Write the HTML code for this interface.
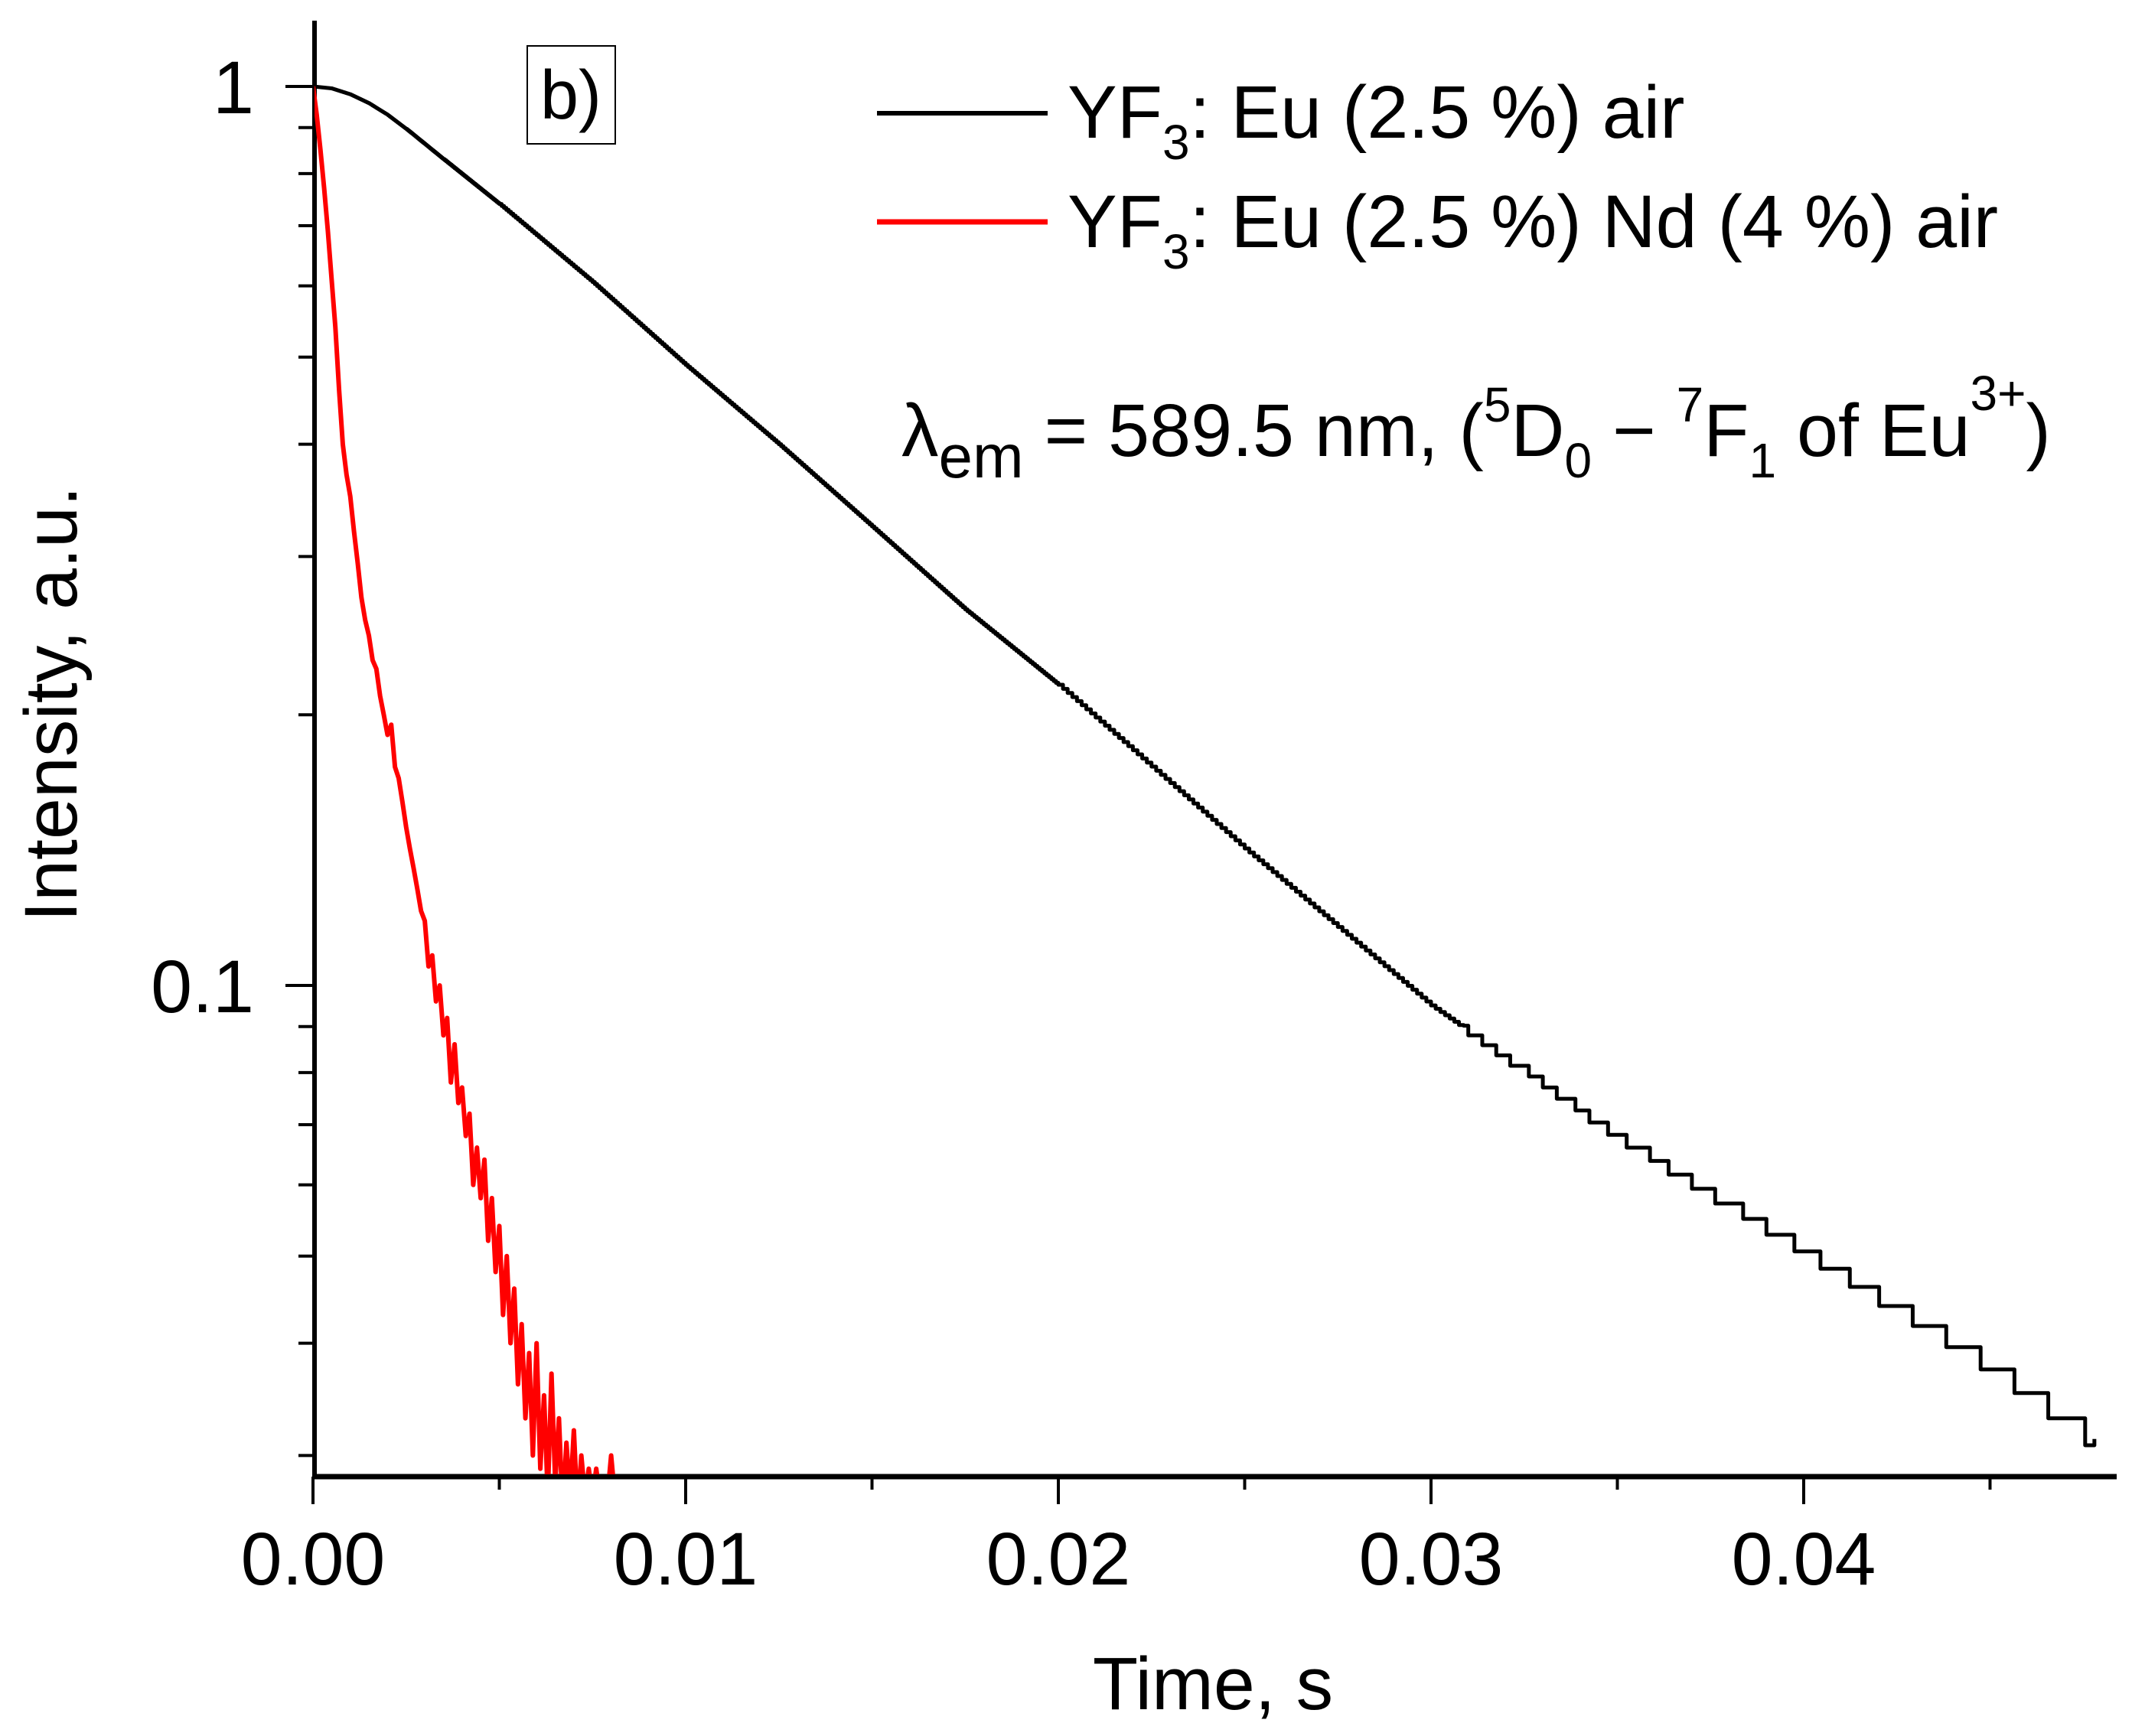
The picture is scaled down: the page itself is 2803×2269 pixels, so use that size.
<!DOCTYPE html>
<html><head><meta charset="utf-8"><style>
html,body{margin:0;padding:0;background:#fff;}
svg{display:block;font-family:"Liberation Sans",Arial,sans-serif;}
</style></head><body>
<svg id="chart" width="2803" height="2269" viewBox="0 0 2803 2269" xmlns="http://www.w3.org/2000/svg">
<defs><clipPath id="plotclip"><rect x="411" y="20" width="2360" height="1907"/></clipPath></defs>
<g id="axes"></g>
<g id="series" clip-path="url(#plotclip)"></g>
<text x="1585" y="2234" font-size="97" text-anchor="middle">Time, s</text>
<text transform="translate(100,920) rotate(-90)" font-size="97" text-anchor="middle">Intensity, a.u.</text>
<g>
<rect x="689" y="60" width="115" height="128" fill="none" stroke="#000" stroke-width="2"/>
<text x="746" y="155" font-size="90" text-anchor="middle">b)</text>
</g>
<g>
<g>
<line x1="1146" y1="148" x2="1369" y2="148" stroke="#000" stroke-width="6"/>
<text x="1395" y="180" font-size="97">YF<tspan font-size="64" dy="28">3</tspan><tspan dy="-28">: Eu (2.5 %) air</tspan></text>
</g>
<g>
<line x1="1146" y1="290" x2="1369" y2="290" stroke="#f00" stroke-width="7"/>
<text x="1395" y="323" font-size="97">YF<tspan font-size="64" dy="28">3</tspan><tspan dy="-28">: Eu (2.5 %) Nd (4 %) air</tspan></text>
</g>
</g>
<text x="1178" y="596" font-size="97">λ<tspan font-size="80" dy="28">em</tspan><tspan dy="-28"> = 589.5 nm, (</tspan><tspan font-size="64" dy="-45">5</tspan><tspan dy="45">D</tspan><tspan font-size="64" dy="28">0</tspan><tspan dy="-28"> − </tspan><tspan font-size="64" dy="-45">7</tspan><tspan dy="45">F</tspan><tspan font-size="64" dy="28">1</tspan><tspan dy="-28"> of Eu</tspan><tspan font-size="64" dy="-60">3+</tspan><tspan dy="60">)</tspan></text>
</svg>
<script>
var xTicks=[0,0.01,0.02,0.03,0.04];
var xTickLabels=["0.00","0.01","0.02","0.03","0.04"];
var yMajor=[1,0.1];
var yMajorLabels=["1","0.1"];
var yMinor=[0.9,0.8,0.7,0.6,0.5,0.4,0.3,0.2,0.09,0.08,0.07,0.06,0.05,0.04,0.03];
var blackT=[0,0.0005,0.001,0.0015,0.002,0.0025,0.0035,0.005,0.0075,0.01,0.0125,0.015,0.0175,0.02,0.025,0.03,0.035,0.04,0.0445,0.0478];
var blackV=[1,0.995,0.98,0.958,0.93,0.897,0.83,0.74,0.606,0.49,0.40,0.324,0.262,0.216,0.142,0.095,0.068,0.0506,0.039,0.0313];
var redT=[];for(var i=0;i<=81;i++)redT.push(i*0.0001);
var redV=[1.00,0.93,0.85,0.77,0.69,0.61,0.54,0.46,0.40,0.37,0.35,0.32,0.295,0.27,0.255,0.245,0.23,0.225,0.21,0.20,0.19,0.195,0.175,0.17,0.16,0.15,0.142,0.135,0.128,0.121,0.118,0.105,0.108,0.096,0.100,0.088,0.092,0.078,0.086,0.074,0.077,0.068,0.072,0.060,0.066,0.058,0.064,0.052,0.058,0.048,0.054,0.043,0.050,0.040,0.046,0.036,0.042,0.033,0.039,0.030,0.040,0.029,0.035,0.027,0.037,0.028,0.033,0.026,0.031,0.027,0.032,0.026,0.030,0.027,0.029,0.027,0.029,0.027,0.027,0.027,0.030,0.027];
var NS="http://www.w3.org/2000/svg";
var X0=409,XS=48700,Y1=113,DEC=1175,AXY=1930,AXL=411;
function sx(t){return X0+t*XS;}
function sy(v){return Y1-DEC*Math.log10(v);}
function mk(tag,attrs,parent){var e=document.createElementNS(NS,tag);for(var k in attrs)e.setAttribute(k,attrs[k]);parent.appendChild(e);return e;}
var ax=document.getElementById('axes');
var l=mk('line',{x1:AXL,y1:27,x2:AXL,y2:AXY,stroke:'#000','stroke-width':6},ax);


l=mk('line',{x1:AXL-3,y1:AXY,x2:2766,y2:AXY,stroke:'#000','stroke-width':7},ax);


xTicks.forEach(function(t,i){
  var e=mk('line',{x1:sx(t),y1:AXY,x2:sx(t),y2:1966,stroke:'#000','stroke-width':4},ax);
  
  
  var tx=mk('text',{x:sx(t),y:2071,'font-size':97,'text-anchor':'middle'},ax);
  tx.textContent=xTickLabels[i];
  
  
  var m=t+0.005;
  if(sx(m)<2766){var e2=mk('line',{x1:sx(m),y1:AXY,x2:sx(m),y2:1947,stroke:'#000','stroke-width':4},ax);
  
  }
});
yMajor.forEach(function(v,i){
  var e=mk('line',{x1:373,y1:sy(v),x2:AXL,y2:sy(v),stroke:'#000','stroke-width':4},ax);
  
  
  var tx=mk('text',{x:332,y:sy(v)+35,'font-size':97,'text-anchor':'end'},ax);
  tx.textContent=yMajorLabels[i];
  
  
});
yMinor.forEach(function(v){
  var e=mk('line',{x1:390,y1:sy(v),x2:AXL,y2:sy(v),stroke:'#000','stroke-width':4},ax);
  
  
});
var se=document.getElementById('series');
var q=0.0022,pts=[];
for(var k=0;k<blackT.length-1;k++){
  var n=40;
  for(var j=0;j<n;j++){
    var f=j/n,t=blackT[k]+(blackT[k+1]-blackT[k])*f;
    var lv=Math.log(blackV[k])+(Math.log(blackV[k+1])-Math.log(blackV[k]))*f;
    var v=Math.exp(lv); if(v<0.09) v=Math.round(v/q)*q;
    pts.push([sx(t),sy(v)]);
  }
}
pts.push([sx(blackT[blackT.length-1]),sy(blackV[blackV.length-1])]);
var d='M'+pts[0][0]+' '+pts[0][1];
for(var p=1;p<pts.length;p++){ if(pts[p][1]!==pts[p-1][1]) d+=' L'+pts[p][0]+' '+pts[p-1][1]; d+=' L'+pts[p][0]+' '+pts[p][1]; }
var bp=mk('path',{d:d,fill:'none',stroke:'#000','stroke-width':5,'stroke-linejoin':'round'},se);


var rd=redT.map(function(t,i){return (i?'L':'M')+sx(t)+' '+sy(redV[i]);}).join(' ');
var rp=mk('path',{d:rd,fill:'none',stroke:'#f00','stroke-width':6,'stroke-linejoin':'round'},se);


</script>
</body></html>
